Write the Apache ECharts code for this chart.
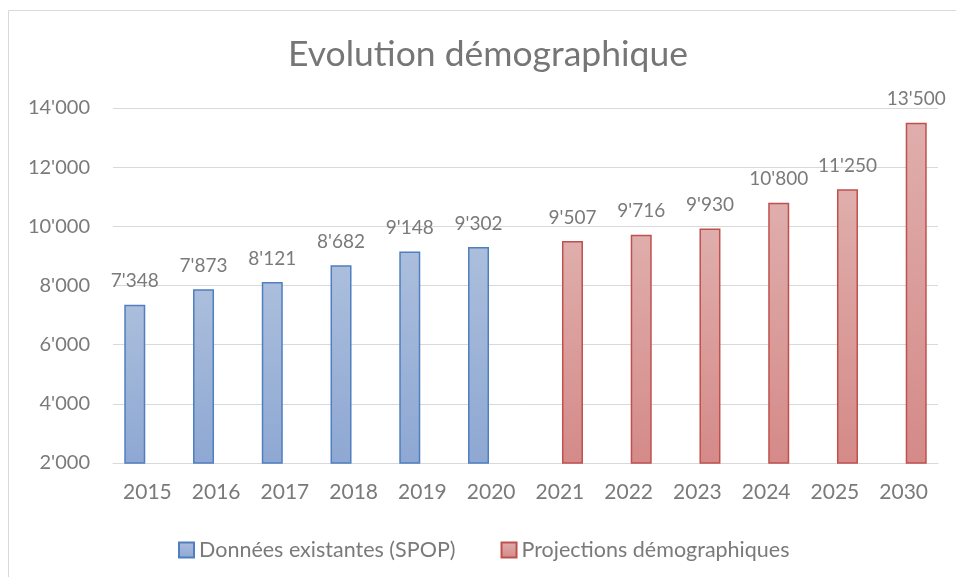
<!DOCTYPE html>
<html>
<head>
<meta charset="utf-8">
<script src="https://cdn.jsdelivr.net/npm/echarts@6/dist/echarts.min.js"></script>
<style>
html,body{margin:0;padding:0;background:#fff;}
#chart{width:956px;height:577px;}
</style>
</head>
<body>
<div id="chart"></div>
<script>
const categories = ['2015','2016','2017','2018','2019','2020','2021','2022','2023','2024','2025','2030'];
const existingData = [7348, 7873, 8121, 8682, 9148, 9302, null, null, null, null, null, null];
const projectionData = [null, null, null, null, null, null, 9507, 9716, 9930, 10800, 11250, 13500];
const seriesNames = ['Données existantes (SPOP)', 'Projections démographiques'];
const titleText = 'Evolution démographique';

const FONT = 'Lato, "Open Sans", sans-serif';
const TXT = '#7a7a7a';
function fmt(v){ return String(v).replace(/\B(?=(\d{3})+(?!\d))/g, "'"); }

const chart = echarts.init(document.getElementById('chart'), null, {renderer:'canvas'});
chart.setOption({
  animation: false,
  backgroundColor: '#ffffff',
  textStyle: { fontFamily: FONT },
  graphic: [{
    type: 'rect', z: -10, silent: true,
    shape: { x: 8.5, y: 10.5, width: 1200, height: 1200 },
    style: { fill: 'none', stroke: '#d9d9d9', lineWidth: 1 }
  }],
  title: {
    text: titleText, left: 283, top: 32,
    textStyle: { fontFamily: FONT, fontSize: 35.5, fontWeight: 'normal', color: '#767676' }
  },
  legend: {
    left: 173, top: 534, itemWidth: 15, itemHeight: 15, itemGap: 45,
    icon: 'rect',
    textStyle: { fontFamily: FONT, fontSize: 21.5, color: TXT },
    data: seriesNames
  },
  grid: { left: 113, right: 18, top: 108, bottom: 114, containLabel: false },
  xAxis: {
    type: 'category', data: categories,
    axisLine: { lineStyle: { color: '#d9d9d9', width: 1 } },
    axisTick: { show: false },
    axisLabel: { color: TXT, fontSize: 21, fontFamily: FONT, margin: 19 }
  },
  yAxis: {
    type: 'value', min: 2000, max: 14000, interval: 2000,
    axisLine: { show: false }, axisTick: { show: false },
    splitLine: { lineStyle: { color: '#d9d9d9', width: 1 } },
    axisLabel: { color: TXT, fontSize: 20, fontFamily: FONT, margin: 23, formatter: fmt }
  },
  series: [
    {
      name: seriesNames[0], type: 'bar', data: existingData,
      barWidth: 21, barGap: '20%',
      itemStyle: {
        color: new echarts.graphic.LinearGradient(0,0,0,1,[
          {offset:0,color:'#abbedc'},{offset:1,color:'#8ea8d3'}]),
        borderColor: '#4f7fc0', borderWidth: 1.5
      },
      label: { show: true, position: 'top', distance: 14, color: TXT, fontSize: 19, fontFamily: FONT, formatter: p => fmt(p.value) }
    },
    {
      name: seriesNames[1], type: 'bar', data: projectionData,
      barWidth: 21,
      itemStyle: {
        color: new echarts.graphic.LinearGradient(0,0,0,1,[
          {offset:0,color:'#dfaeac'},{offset:1,color:'#d48a88'}]),
        borderColor: '#c0504d', borderWidth: 1.5
      },
      label: { show: true, position: 'top', distance: 14, color: TXT, fontSize: 19, fontFamily: FONT, formatter: p => fmt(p.value) }
    }
  ]
});
</script>
</body>
</html>
